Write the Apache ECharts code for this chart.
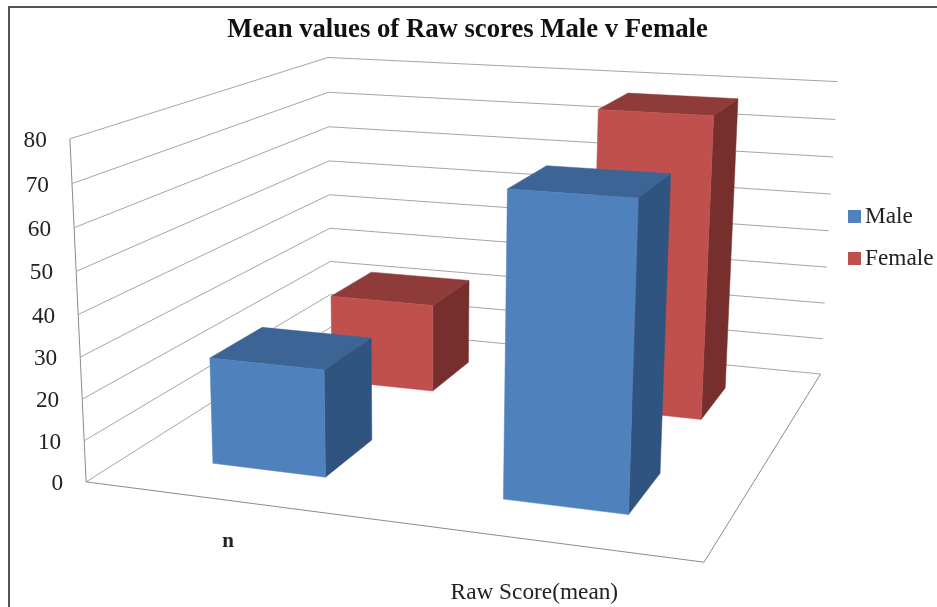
<!DOCTYPE html>
<html><head><meta charset="utf-8">
<style>html,body{margin:0;padding:0;background:#fff;overflow:hidden}#c{width:937px;height:607px}</style>
<script src="https://cdn.jsdelivr.net/npm/echarts@6/dist/echarts.min.js"></script>
</head><body><div id="c"></div>
<script>
const categories = ['n', 'Raw Score(mean)'];
const seriesNames = ['Male', 'Female'];
const maleValues = [26, 71];
const femaleValues = [23.5, 77.5];
const yTicks = [0, 10, 20, 30, 40, 50, 60, 70, 80];

// camera calibration: box corners [u,v,d] -> screen
const corners = [
  [0,0,0,87,481],[1,0,0,704,563],[0,1,0,69,139],[0,0,1,330,328],
  [1,0,1,821,373],[0,1,1,329,57],[1,1,1,837,82]
];
function fitCamera(pts){
  const S=1000, rows=[], rhs=[];
  pts.forEach(([u,v,d,x,y])=>{
    x/=S;y/=S;
    rows.push([u,v,d,1,0,0,0,0,-x*u,-x*v,-x*d]);rhs.push(x);
    rows.push([0,0,0,0,u,v,d,1,-y*u,-y*v,-y*d]);rhs.push(y);
  });
  const n=11,A=[];
  for(let i=0;i<n;i++){A[i]=[];for(let j=0;j<=n;j++){let s=0;
    rows.forEach((r,k)=>{s+=r[i]*(j<n?r[j]:rhs[k]);});A[i][j]=s+(i===j?1e-9:0);}}
  for(let i=0;i<n;i++){let p=i;for(let k=i+1;k<n;k++)if(Math.abs(A[k][i])>Math.abs(A[p][i]))p=k;
    [A[i],A[p]]=[A[p],A[i]];
    for(let k=0;k<n;k++){if(k===i)continue;const f=A[k][i]/A[i][i];for(let j=i;j<=n;j++)A[k][j]-=f*A[i][j];}}
  const m=A.map((r,i)=>r[n]/r[i]);
  return (u,v,d)=>{const w=m[8]*u+m[9]*v+m[10]*d+1;
    return [S*(m[0]*u+m[1]*v+m[2]*d+m[3])/w,S*(m[4]*u+m[5]*v+m[6]*d+m[7])/w];};
}
const proj = fitCamera(corners);

const barHalfWidth = 0.1, barHalfDepth = 0.1;
const depthCenter = {Male:0.25, Female:0.75};
const labelShift = [[0,41],[-2,52]];
const labelFont = '23.3px "Liberation Serif"';
const gridColor = '#a6a6a6';

const vOf=(api,params,val)=>{const cs=params.coordSys;return (cs.y+cs.height-api.coord([0,val])[1])/cs.height;};
const uOf=(api,params,idx)=>{const cs=params.coordSys;return (api.coord([idx,0])[0]-cs.x)/cs.width;};

function barRenderer(name,front,top,side){
  return function(params,api){
    const u=uOf(api,params,api.value(0)), v=vOf(api,params,api.value(1)), dc=depthCenter[name];
    const u0=u-barHalfWidth,u1=u+barHalfWidth,d0=dc-barHalfDepth,d1=dc+barHalfDepth;
    const poly=(pts,c)=>({type:'polygon',shape:{points:pts},style:{fill:c,stroke:c,lineWidth:0.5}});
    return {type:'group',children:[
      poly([proj(u1,0,d0),proj(u1,0,d1),proj(u1,v,d1),proj(u1,v,d0)],side),
      poly([proj(u0,v,d0),proj(u1,v,d0),proj(u1,v,d1),proj(u0,v,d1)],top),
      poly([proj(u0,0,d0),proj(u1,0,d0),proj(u1,v,d0),proj(u0,v,d0)],front)
    ]};
  };
}
function wallRenderer(params,api){
  const t=api.value(1), v=vOf(api,params,t);
  const line={type:'polyline',shape:{points:[proj(0,v,0),proj(0,v,1),proj(1,v,1)]},style:{fill:null,stroke:gridColor,lineWidth:1}};
  const p=proj(0,v,0);
  const kids=[line,{type:'text',style:{x:p[0]-23,y:p[1]+2,text:String(t),align:'right',verticalAlign:'middle',font:labelFont,fill:'#222'}}];
  if(t===0){
    kids.push({type:'polyline',shape:{points:[proj(0,0,0),proj(1,0,0),proj(1,0,1)]},style:{fill:null,stroke:'#8c8c8c',lineWidth:1}});
    kids.push({type:'line',shape:{x1:proj(0,0,0)[0],y1:proj(0,0,0)[1],x2:proj(0,1,0)[0],y2:proj(0,1,0)[1]},style:{stroke:'#8c8c8c',lineWidth:1}});
  }
  return {type:'group',children:kids};
}
function catLabelRenderer(params,api){
  const i=api.value(0),p=proj(uOf(api,params,i),0,0),s=labelShift[i];
  return {type:'text',style:{x:p[0]+s[0],y:p[1]+s[1],text:categories[i],align:'center',verticalAlign:'middle',font:i===0?'bold 21px "Liberation Serif"':labelFont,fill:'#222'}};
}

const chart=echarts.init(document.getElementById('c'),null,{renderer:'canvas'});
chart.setOption({
  animation:false,
  backgroundColor:'#fff',
  title:{text:'Mean values of Raw scores Male v Female',left:462.5,top:12,textAlign:'center',
    textStyle:{fontFamily:'Liberation Serif',fontWeight:'bold',fontSize:26.7,color:'#111'}},
  legend:{data:seriesNames,orient:'vertical',left:848,top:205,icon:'rect',itemWidth:13,itemHeight:13,itemGap:19,
    textStyle:{fontFamily:'Liberation Serif',fontSize:23.3,color:'#222',padding:[4,0,0,-1]},padding:0},
  grid:{left:0,right:0,top:0,bottom:0},
  xAxis:{type:'category',data:categories,show:false},
  yAxis:{type:'value',min:0,max:80,interval:10,show:false},
  graphic:[{type:'rect',shape:{x:9,y:7,width:960,height:640},style:{fill:'none',stroke:'#555',lineWidth:2},z:10}],
  series:[
    {type:'custom',name:'walls',renderItem:wallRenderer,data:yTicks.map(t=>[0,t]),encode:{x:0,y:1},silent:true,z:1},
    {type:'custom',name:'axisLabels',renderItem:catLabelRenderer,data:categories.map((c,i)=>[i,0]),encode:{x:0,y:1},silent:true,z:1},
    {type:'custom',name:'Female',renderItem:barRenderer('Female','#c0504d','#8e3b39','#772f2d'),itemStyle:{color:'#c0504d'},
      data:femaleValues.map((v,i)=>[i,v]),encode:{x:0,y:1},z:2},
    {type:'custom',name:'Male',renderItem:barRenderer('Male','#4f81bd','#3c6494','#305480'),itemStyle:{color:'#4f81bd'},
      data:maleValues.map((v,i)=>[i,v]),encode:{x:0,y:1},z:3}
  ]
});
</script></body></html>
